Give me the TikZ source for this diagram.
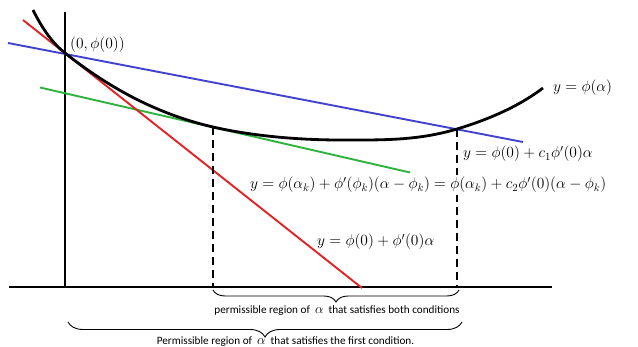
\RequirePackage{fix-cm}
\documentclass[tikz,border=0pt]{standalone}
\usepackage{fontspec}
\newfontfamily\labfont{Carlito}
\usetikzlibrary{decorations.pathreplacing}
\definecolor{cred}{RGB}{226,34,36}
\definecolor{cblue}{RGB}{66,66,206}
\definecolor{cgreen}{RGB}{46,178,62}
\tikzset{
  axisline/.style={line width=1.1pt,black},
  curveline/.style={line width=2.8pt,black},
  tanline/.style={line width=1.9pt},
  dashline/.style={line width=1.2pt,dash pattern=on 8pt off 5pt},
  mlabel/.style={inner sep=0pt,font=\fontsize{15.5}{18}\selectfont},
  slabel/.style={inner sep=0pt,font=\labfont\fontsize{11.2}{13}\selectfont},
  bracea/.style={line width=0.9pt,decorate,decoration={brace,mirror,amplitude=12pt}},
  braceb/.style={line width=0.9pt,decorate,decoration={brace,mirror,amplitude=15pt}},
}
\newcommand{\bigalpha}{{\fontsize{13.5}{14}\selectfont$\alpha$}}
\begin{document}
\begin{tikzpicture}[x=1pt,y=-1pt]
\useasboundingbox (0,0) rectangle (638,347);
% key points
\coordinate (O) at (65,53);
\coordinate (K) at (213,127);
\coordinate (M) at (340,140);
\coordinate (P) at (457,129);
\coordinate (S) at (33,10);
\coordinate (E) at (543,88);
% axes
\coordinate (axT) at (65,12);
\coordinate (axB) at (65,287);
\coordinate (hL) at (9,287);
\coordinate (hR) at (552,287);
\draw[axisline] (axT) -- (axB);
\draw[axisline] (hL) -- (hR);
% tangent / bound lines
\coordinate (rA) at (23,20);
\coordinate (rB) at (362,288);
\coordinate (bA) at (8,43);
\coordinate (bB) at (523,142);
\coordinate (gA) at (40,87.5);
\coordinate (gB) at (410,172.5);
\draw[tanline,cblue] (bA) -- (bB);
\draw[tanline,cgreen] (gA) -- (gB);
\draw[tanline,cred] (rA) -- (rB);
% curve
\draw[curveline] (S) .. controls (43,30) and (53,43.5) .. (O)
  .. controls (105,84.6) and (153,113.2) .. (K)
  .. controls (253,136.2) and (300,140) .. (M)
  .. controls (380,140) and (417,141) .. (P)
  .. controls (487,120) and (518,107) .. (E);
% dashed verticals
\draw[dashline] (K) -- (K |- hL);
\draw[dashline] (P) -- (P |- hL);
% braces
\coordinate (b1L) at (213,290);
\coordinate (b1R) at (459,290);
\coordinate (b2L) at (68,322);
\coordinate (b2R) at (462,322);
\draw[bracea] (b1L) -- (b1R);
\draw[braceb] (b2L) -- (b2R);
% labels
\node[mlabel,anchor=base west] (l0) at (70,49) {$(0,\phi(0))$};
\node[mlabel,anchor=base west] (lphi) at (553,92) {$y=\phi(\alpha)$};
\node[mlabel,anchor=base west] (lc1) at (463,158) {$y=\phi(0)+c_1\phi'(0)\alpha$};
\node[mlabel,anchor=base west,fill=white,inner ysep=2pt] (lc2) at (250,189) {$y=\phi(\alpha_k)+\phi'(\phi_k)(\alpha-\phi_k)=\phi(\alpha_k)+c_2\phi'(0)(\alpha-\phi_k)$};
\node[mlabel,anchor=base west] (lr) at (317,246) {$y=\phi(0)+\phi'(0)\alpha$};
\node[slabel] (t1) at (337,311) {permissible region of\ \ \bigalpha\ \ that satisfies both conditions};
\node[slabel] (t2) at (285.5,342) {Permissible region of\ \ \bigalpha\ \ that satisfies the first condition.};
\end{tikzpicture}
\end{document}
